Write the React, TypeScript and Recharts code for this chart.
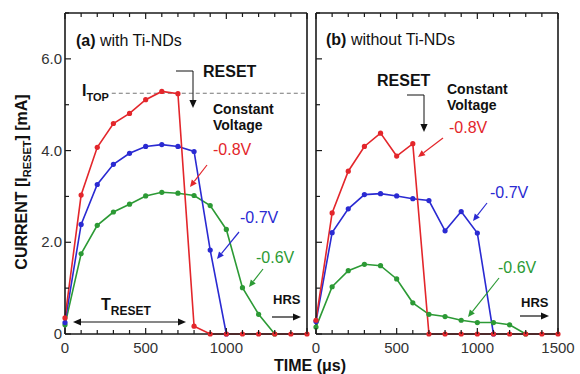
import React from 'react';
import { LineChart, Line, XAxis, YAxis, ReferenceLine } from 'recharts';

// ---------- data ----------
const TIME = [0, 100, 200, 300, 400, 500, 600, 700, 800, 900, 1000, 1100, 1200, 1300, 1400, 1500];

// (a) with Ti-NDs
const A_08V = [0.35, 3.03, 4.07, 4.59, 4.81, 5.11, 5.29, 5.24, 0.17, 0, 0, 0, 0, 0, 0, 0];
const A_07V = [0.25, 2.39, 3.26, 3.7, 3.94, 4.09, 4.13, 4.09, 3.98, 1.83, 0];
const A_06V = [0.2, 1.75, 2.37, 2.66, 2.83, 3.01, 3.09, 3.07, 3.02, 2.8, 2.28, 1.01, 0.43, 0];

// (b) without Ti-NDs
const B_08V = [0.3, 2.64, 3.55, 4.09, 4.38, 3.88, 4.15, 0, 0, 0, 0, 0, 0, 0, 0, 0];
const B_07V = [0.27, 2.21, 2.73, 3.04, 3.06, 3.01, 2.95, 2.91, 2.25, 2.67, 2.2, 0];
const B_06V = [0.15, 1.03, 1.38, 1.52, 1.49, 1.2, 0.68, 0.43, 0.38, 0.3, 0.25, 0.25, 0.2, 0];

const I_TOP = 5.25;

const X_TICKS = TIME;
const X_LABELS_A = [0, 500, 1000];
const X_LABELS_B = [0, 500, 1000, 1500];
const Y_TICKS = [0, 1, 2, 3, 4, 5, 6, 7];
const Y_LABELS: Record<number, string> = { 0: '0', 2: '2.0', 4: '4.0', 6: '6.0' };

const RED = '#e3262b';
const BLUE = '#2a2ad2';
const GREEN = '#2c9a35';
const FONT = '"Liberation Sans", Arial, Helvetica, sans-serif';
const FRAME = '#1a1a1a';

const build = (r: number[], b: number[], g: number[]) =>
  TIME.map((t, i) => ({
    t,
    r: r[i] === undefined ? null : r[i],
    b: b[i] === undefined ? null : b[i],
    g: g[i] === undefined ? null : g[i],
  }));

const DATA_A = build(A_08V, A_07V, A_06V);
const DATA_B = build(B_08V, B_07V, B_06V);

// ---------- ticks ----------
const makeBottomTick = (labels: number[]) => (props: any) => {
  const { x, y, payload } = props;
  const v = payload.value;
  const major = v % 500 === 0;
  return (
    <g>
      <line x1={x} x2={x} y1={y} y2={y - (major ? 6 : 4)} stroke={FRAME} strokeWidth={1.2} />
      {labels.includes(v) && (
        <text x={x} y={y + 19} textAnchor="middle" fontSize={15} fill="#333" fontFamily={FONT}>
          {v}
        </text>
      )}
    </g>
  );
};
const TopTick = (props: any) => {
  const { x, y, payload } = props;
  const major = payload.value % 500 === 0;
  return <line x1={x} x2={x} y1={y} y2={y + (major ? 6 : 4)} stroke={FRAME} strokeWidth={1.2} />;
};
const makeLeftTick = (withLabels: boolean) => (props: any) => {
  const { x, y, payload } = props;
  const v = payload.value;
  const lab = Y_LABELS[v];
  return (
    <g>
      <line x1={x} x2={x + (lab ? 6 : 4)} y1={y} y2={y} stroke={FRAME} strokeWidth={1.2} />
      {withLabels && lab && (
        <text x={x - 3} y={y + 5} textAnchor="end" fontSize={15} fill="#333" fontFamily={FONT}>
          {lab}
        </text>
      )}
    </g>
  );
};
const RightTick = (props: any) => {
  const { x, y, payload } = props;
  const lab = Y_LABELS[payload.value];
  return <line x1={x} x2={x - (lab ? 6 : 4)} y1={y} y2={y} stroke={FRAME} strokeWidth={1.2} />;
};

const axisLine = { stroke: FRAME, strokeWidth: 1.6 };

const Panel = ({ data, labels, withYLabels, width, margin, itop }: any) => (
  <LineChart width={width} height={374} data={data} margin={margin}>
    <XAxis
      xAxisId="b"
      dataKey="t"
      type="number"
      domain={[0, 1500]}
      ticks={X_TICKS}
      interval={0}
      height={1}
      tickSize={0}
      tickMargin={0}
      tickLine={false}
      axisLine={axisLine}
      tick={makeBottomTick(labels)}
    />
    <XAxis
      xAxisId="t"
      orientation="top"
      dataKey="t"
      type="number"
      domain={[0, 1500]}
      ticks={X_TICKS}
      interval={0}
      height={1}
      tickSize={0}
      tickMargin={0}
      tickLine={false}
      axisLine={axisLine}
      tick={TopTick}
    />
    <YAxis
      yAxisId="l"
      type="number"
      domain={[0, 7]}
      ticks={Y_TICKS}
      interval={0}
      width={1}
      tickSize={0}
      tickMargin={0}
      tickLine={false}
      axisLine={axisLine}
      tick={makeLeftTick(withYLabels)}
    />
    <YAxis
      yAxisId="r"
      orientation="right"
      type="number"
      domain={[0, 7]}
      ticks={Y_TICKS}
      interval={0}
      width={1}
      tickSize={0}
      tickMargin={0}
      tickLine={false}
      axisLine={axisLine}
      tick={RightTick}
    />
    {itop && (
      <ReferenceLine
        xAxisId="b"
        yAxisId="l"
        segment={[
          { x: 290, y: I_TOP },
          { x: 1500, y: I_TOP },
        ]}
        stroke="#777"
        strokeWidth={1}
        strokeDasharray="4 3"
      />
    )}
    <Line xAxisId="b" yAxisId="l" dataKey="g" stroke={GREEN} strokeWidth={1.6} dot={{ r: 2.6, fill: GREEN, stroke: GREEN, strokeWidth: 0 }} isAnimationActive={false} />
    <Line xAxisId="b" yAxisId="l" dataKey="b" stroke={BLUE} strokeWidth={1.6} dot={{ r: 2.6, fill: BLUE, stroke: BLUE, strokeWidth: 0 }} isAnimationActive={false} />
    <Line xAxisId="b" yAxisId="l" dataKey="r" stroke={RED} strokeWidth={1.6} dot={{ r: 2.6, fill: RED, stroke: RED, strokeWidth: 0 }} isAnimationActive={false} />
  </LineChart>
);

// ---------- annotations ----------
const Arrow = ({ x1, y1, x2, y2, color = '#111', head = 7, w = 1.2, both = false }: any) => {
  const a = Math.atan2(y2 - y1, x2 - x1);
  const hw = head * 0.45;
  const headPts = (tx: number, ty: number, ang: number) => {
    const hx = tx - head * Math.cos(ang);
    const hy = ty - head * Math.sin(ang);
    const px = Math.sin(ang) * hw;
    const py = -Math.cos(ang) * hw;
    return { hx, hy, pts: `${tx},${ty} ${hx + px},${hy + py} ${hx - px},${hy - py}` };
  };
  const e = headPts(x2, y2, a);
  const s = both ? headPts(x1, y1, a + Math.PI) : null;
  return (
    <g>
      <line x1={s ? s.hx : x1} y1={s ? s.hy : y1} x2={e.hx} y2={e.hy} stroke={color} strokeWidth={w} />
      <polygon points={e.pts} fill={color} />
      {s && <polygon points={s.pts} fill={color} />}
    </g>
  );
};

const T = ({ x, y, children, size = 16, bold = false, color = '#111', anchor = 'start' }: any) => (
  <text x={x} y={y} fontSize={size} fontWeight={bold ? 'bold' : 'normal'} fill={color} fontFamily={FONT} textAnchor={anchor}>
    {children}
  </text>
);

const Overlay = () => (
  <svg width={580} height={374} style={{ position: 'absolute', left: 0, top: 0, pointerEvents: 'none' }}>
    {/* axis titles */}
    <text transform="translate(27,182) rotate(-90)" textAnchor="middle" fontSize={16} fontWeight="bold" fill="#111" fontFamily={FONT}>
      CURRENT [I<tspan fontSize={11} dy={4}>RESET</tspan>
      <tspan dy={-4}>] [mA]</tspan>
    </text>
    <T x={310} y={371} bold anchor="middle">TIME (μs)</T>

    {/* panel (a) */}
    <text x={76} y={46} fontSize={16} fill="#111" fontFamily={FONT}>
      <tspan fontWeight="bold">(a)</tspan> with Ti-NDs
    </text>
    <text x={82} y={96} fontSize={16} fontWeight="bold" fill="#111" fontFamily={FONT}>
      I<tspan fontSize={11} dy={5}>TOP</tspan>
    </text>
    <T x={203} y={77} bold>RESET</T>
    <polyline points="176,71 193,71 193,101" fill="none" stroke="#111" strokeWidth={1} />
    <Arrow x1={193} y1={100} x2={193} y2={108} head={8} />
    <T x={213} y={114} size={14} bold>Constant</T>
    <T x={213} y={130} size={14} bold>Voltage</T>
    <T x={213} y={155} color={RED}>-0.8V</T>
    <Arrow x1={207} y1={165} x2={190} y2={187} color={RED} />
    <T x={240} y={223} color={BLUE}>-0.7V</T>
    <Arrow x1={239} y1={232} x2={217} y2={259} color={BLUE} />
    <T x={256} y={263} color={GREEN}>-0.6V</T>
    <Arrow x1={263} y1={269} x2={249} y2={287} color={GREEN} />
    <text x={101} y={310} fontSize={16} fontWeight="bold" fill="#111" fontFamily={FONT}>
      T<tspan fontSize={12} dy={5}>RESET</tspan>
    </text>
    <Arrow x1={73} y1={322} x2={186} y2={322} both head={8} />
    <T x={273} y={304} size={13} bold>HRS</T>
    <Arrow x1={272} y1={317} x2={301} y2={317} head={8} />

    {/* panel (b) */}
    <text x={326} y={45} fontSize={16} fill="#111" fontFamily={FONT}>
      <tspan fontWeight="bold">(b)</tspan> without Ti-NDs
    </text>
    <T x={377} y={86} bold>RESET</T>
    <polyline points="407,95 424,95 424,125" fill="none" stroke="#111" strokeWidth={1} />
    <Arrow x1={424} y1={124} x2={424} y2={132} head={8} />
    <T x={447} y={94} size={14} bold>Constant</T>
    <T x={447} y={110} size={14} bold>Voltage</T>
    <T x={449} y={133} color={RED}>-0.8V</T>
    <Arrow x1={443} y1={138} x2={418} y2={157} color={RED} />
    <T x={490} y={198} color={BLUE}>-0.7V</T>
    <Arrow x1={487} y1={203} x2={473} y2={221} color={BLUE} />
    <T x={498} y={273} color={GREEN}>-0.6V</T>
    <Arrow x1={499} y1={278} x2={468} y2={317} color={GREEN} />
    <T x={521} y={307} size={13} bold>HRS</T>
    <Arrow x1={520} y1={316} x2={549} y2={316} head={8} />
  </svg>
);

export default function App() {
  return (
    <div style={{ position: 'absolute', left: 0, top: 0, width: 580, height: 374, background: '#fff', overflow: 'hidden' }}>
      <div style={{ position: 'absolute', left: 0, top: 0 }}>
        <Panel
          data={DATA_A}
          labels={X_LABELS_A}
          withYLabels
          width={312}
          margin={{ top: 12, right: 4, bottom: 39, left: 64 }}
          itop
        />
      </div>
      <div style={{ position: 'absolute', left: 308, top: 0 }}>
        <Panel
          data={DATA_B}
          labels={X_LABELS_B}
          withYLabels={false}
          width={272}
          margin={{ top: 12, right: 21, bottom: 39, left: 7 }}
          itop={false}
        />
      </div>
      <Overlay />
    </div>
  );
}
